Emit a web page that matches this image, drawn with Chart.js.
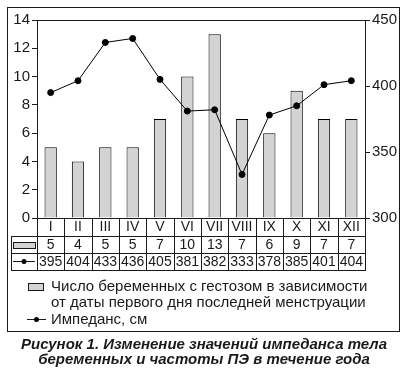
<!DOCTYPE html>
<html>
<head>
<meta charset="utf-8">
<script src="https://cdn.jsdelivr.net/npm/chart.js@4"></script>
<style>
  html, body { margin: 0; padding: 0; background: #fff; }
  #wrap { width: 408px; height: 370px; position: relative; }
</style>
</head>
<body>
<div id="wrap"><canvas id="chart" width="408" height="370"></canvas></div>
<script>
const months = ["I", "II", "III", "IV", "V", "VI", "VII", "VIII", "IX", "X", "XI", "XII"];
const cases = [5, 4, 5, 5, 7, 10, 13, 7, 6, 9, 7, 7];
const impedance = [395, 404, 433, 436, 405, 381, 382, 333, 378, 385, 401, 404];
const leftTicks = [0, 14, 2];
const rightTicks = [300, 450, 50];
const barLabel = ["Число беременных с гестозом в зависимости", "от даты первого дня последней менструации"];
const lineLabel = "Импеданс, см";
const caption = ["Рисунок 1. Изменение значений импеданса тела", "беременных и частоты ПЭ в течение года"];

const FONT = "'Liberation Sans', Arial, sans-serif";
const INK = "#1a1a1a";
const BAR_FILL = "#d3d3d3";

// frame, data table, legend and caption
const tablePlugin = {
  id: "tablePlugin",
  afterDraw(chart) {
    const ctx = chart.ctx;
    const area = chart.chartArea;
    const x = chart.scales.x;
    const L = area.left, R = area.right, B = area.bottom;
    const tl = 11;
    const rows = [B, 236, 253, 270];
    const half = (R - L) / months.length / 2;

    ctx.save();
    ctx.strokeStyle = INK;
    ctx.lineWidth = 1;

    // outer frame and top border of plot
    ctx.strokeRect(7.5, 7.5, 392, 324);
    ctx.beginPath();
    ctx.moveTo(L, area.top + 0.5);
    ctx.lineTo(R, area.top + 0.5);
    ctx.stroke();

    // table lines
    ctx.beginPath();
    ctx.moveTo(L, B + 0.5); ctx.lineTo(R, B + 0.5);
    for (let i = 1; i < rows.length; i++) {
      ctx.moveTo(tl, rows[i] + 0.5); ctx.lineTo(R, rows[i] + 0.5);
    }
    ctx.moveTo(tl + 0.5, rows[1]); ctx.lineTo(tl + 0.5, rows[3] + 1);
    for (let i = 0; i <= months.length; i++) {
      const px = Math.round(i < months.length ? x.getPixelForValue(i) - half : R) + 0.5;
      ctx.moveTo(px, B); ctx.lineTo(px, rows[3] + 1);
    }
    ctx.stroke();

    // table legend keys
    ctx.fillStyle = BAR_FILL;
    ctx.fillRect(13.5, 242.5, 22, 6);
    ctx.strokeRect(13.5, 242.5, 22, 6);
    ctx.beginPath();
    ctx.moveTo(13, 261.5); ctx.lineTo(35, 261.5);
    ctx.stroke();
    ctx.fillStyle = "#000";
    ctx.beginPath(); ctx.arc(24, 261.5, 2.5, 0, Math.PI * 2); ctx.fill();

    // table text
    ctx.fillStyle = INK;
    ctx.font = "14px " + FONT;
    ctx.textAlign = "center";
    ctx.textBaseline = "middle";
    months.forEach((m, i) => {
      const px = x.getPixelForValue(i);
      ctx.fillText(m, px, 227.5);
      ctx.fillText(String(cases[i]), px, 245);
      ctx.fillText(String(impedance[i]), px, 262);
    });

    // legend
    ctx.fillStyle = BAR_FILL;
    ctx.fillRect(28.5, 283.5, 15, 7);
    ctx.strokeRect(28.5, 283.5, 15, 7);
    ctx.fillStyle = INK;
    ctx.font = "15px " + FONT;
    ctx.textAlign = "left";
    ctx.fillText(barLabel[0], 51, 287);
    ctx.fillText(barLabel[1], 51, 303);
    ctx.fillText(lineLabel, 51, 320);
    ctx.beginPath();
    ctx.moveTo(27, 319.5); ctx.lineTo(46, 319.5);
    ctx.stroke();
    ctx.fillStyle = "#000";
    ctx.beginPath(); ctx.arc(36.5, 319.5, 2.5, 0, Math.PI * 2); ctx.fill();

    // caption
    ctx.fillStyle = INK;
    ctx.textAlign = "center";
    ctx.font = "italic bold 15px " + FONT;
    ctx.fillText(caption[0], 204, 345);
    ctx.fillText(caption[1], 204, 360);
    ctx.restore();
  }
};

new Chart(document.getElementById("chart").getContext("2d"), {
  type: "bar",
  data: {
    labels: months,
    datasets: [{
      type: "line",
      label: lineLabel,
      data: impedance,
      yAxisID: "y1",
      borderColor: "#000",
      backgroundColor: "#000",
      borderWidth: 1,
      pointRadius: 3,
      pointHoverRadius: 3,
      tension: 0,
      order: 0
    }, {
      label: barLabel.join(" "),
      data: cases,
      yAxisID: "y",
      backgroundColor: BAR_FILL,
      borderColor: "#000",
      borderWidth: 1,
      barPercentage: 0.45,
      categoryPercentage: 1,
      order: 1
    }]
  },
  options: {
    responsive: false,
    animation: false,
    layout: { padding: { top: 20, bottom: 152, left: 0, right: 0 } },
    plugins: {
      legend: { display: false },
      tooltip: { enabled: false }
    },
    scales: {
      x: { display: false },
      y: {
        position: "left",
        min: leftTicks[0],
        max: leftTicks[1],
        afterFit: s => { s.width = 37; },
        ticks: { stepSize: leftTicks[2], color: INK, font: { family: FONT, size: 15 }, padding: 2 },
        grid: { drawOnChartArea: false, drawTicks: true, tickLength: 5, color: INK },
        border: { display: true, color: INK, width: 1 }
      },
      y1: {
        position: "right",
        min: rightTicks[0],
        max: rightTicks[1],
        afterFit: s => { s.width = 43; },
        ticks: { stepSize: rightTicks[2], color: INK, font: { family: FONT, size: 15 }, padding: 2 },
        grid: { drawOnChartArea: false, drawTicks: true, tickLength: 5, color: INK },
        border: { display: true, color: INK, width: 1 }
      }
    }
  },
  plugins: [tablePlugin]
});
</script>
</body>
</html>
